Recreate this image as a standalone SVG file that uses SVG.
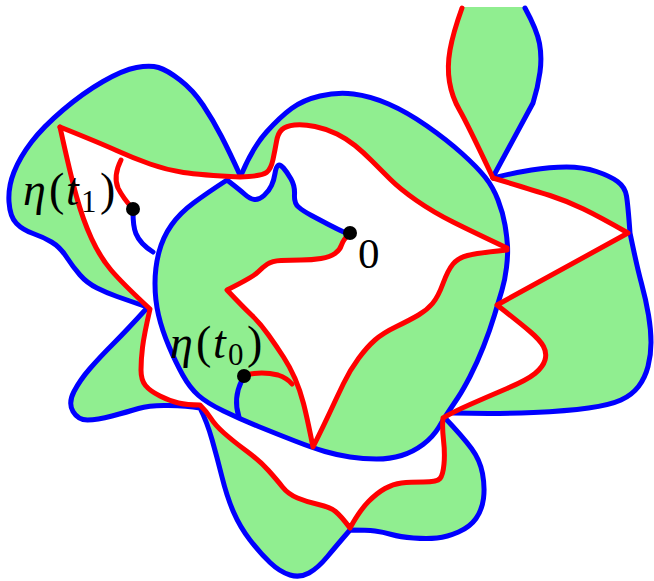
<svg xmlns="http://www.w3.org/2000/svg" width="654" height="581" viewBox="0 0 654 581">
<style>
.g{fill:#90EE90;stroke:none}
.w{fill:#ffffff;stroke:none}
.b{fill:none;stroke:#0000FF;stroke-width:5;stroke-linecap:round;stroke-linejoin:round}
.r{fill:none;stroke:#FF0000;stroke-width:5;stroke-linecap:round;stroke-linejoin:round}
.lbl{font-family:"Liberation Serif","DejaVu Serif",serif;fill:#000}
</style>
<rect width="654" height="581" fill="#ffffff"/>
<g id="fills">
<path id="fill-left" class="g" d="M240,175 Q230,153 221.5,136.5 Q213,120 203,105 Q193,90 180,80 Q167,70 158.5,67.5 Q150,65 136.5,67.5 Q123,70 103,81.5 Q83,93 63,110 Q43,127 31.5,142 Q20,157 14,172 Q8,187 9,202 Q10,217 16.5,223.5 Q23,230 33,233.5 Q43,237 51.5,242 Q60,247 66.5,257 Q73,267 80,275 Q87,283 97,288 Q107,293 117,296.5 Q127,300 147,307 L150,309 Q122,283 111,270 Q100,257 91.5,238.5 Q83,220 76.5,196.5 Q70,173 60,127 Q100,143 116.5,150.5 Q133,158 150,164 Q167,170 183.5,172.5 Q200,175 240,177 Z"/>
<path id="fill-center" class="g" d="M242,173 Q253,147 266.5,132 Q280,117 291.5,108.5 Q303,100 320,96 Q337,92 353.5,94 Q370,96 388.5,104 Q407,112 427,126 Q447,140 462,153.5 Q477,167 485,177 Q493,187 498,200 Q503,213 505,225 Q507,237 507.5,246 Q508,255 506.5,267.5 Q505,280 502,290 Q499,300 494.5,315 Q490,330 483.5,346.5 Q477,363 470,376.5 Q463,390 458,397.5 Q453,405 449,411 Q445,417 439,427 Q433,437 423,444.5 Q413,452 401.5,455.5 Q390,459 376.5,459 Q363,459 350,457 Q337,455 325,451.5 Q313,448 295,441 Q277,434 258.5,426.5 Q240,419 223.5,411 Q207,403 198.5,395.5 Q190,388 183,375.5 Q176,363 169,346.5 Q162,330 158.5,315 Q155,300 155,283.5 Q155,267 159,252 Q163,237 171.5,225 Q180,213 193.5,203 Q207,193 227,180 Z"/>
<path id="hole-center" class="w" d="M227,180 L240,177 Q262,176 266.5,172.5 Q271,169 273,159.5 Q275,150 276.5,141.5 Q278,133 282,129.5 Q286,126 294.5,125 Q303,124 315,126.5 Q327,129 337,134 Q347,139 355,145.5 Q363,152 371.5,160.5 Q380,169 390,179 Q400,189 416.5,200.5 Q433,212 453,222 Q473,232 507,248 L507,250 Q477,253 467.5,255.5 Q458,258 453,264 Q448,270 443,283.5 Q438,297 432.5,303.5 Q427,310 418.5,315 Q410,320 396.5,326.5 Q383,333 375,340 Q367,347 358.5,358.5 Q350,370 343.5,383.5 Q337,397 330,412 Q323,427 313,447 Q307,417 303.5,403.5 Q300,390 295,378.5 Q290,367 283.5,357 Q277,347 268.5,335 Q260,323 251.5,315 Q243,307 227,290 Q253,277 258,272 Q263,267 267.5,264 Q272,261 281,260.5 Q290,260 301,260 Q312,260 321,258.5 Q330,257 335,253.5 Q340,250 341.5,245 Q343,240 350,233 L348,234 Q337,229 328.5,224.5 Q320,220 311.5,215.5 Q303,211 298.5,207 Q294,203 294.5,194.5 Q295,186 291,179 Q287,172 283.5,168 Q280,164 278,165.5 Q276,167 275,173.5 Q274,180 271.5,185.5 Q269,191 264,195.5 Q259,200 254.5,199.5 Q250,199 245,194.5 Q240,190 227,180 Z"/>
<path id="fill-petal" class="g" d="M462,7 Q453,33 450,50 Q447,67 449.5,82 Q452,97 459.5,110 Q467,123 493,178 L533,103 Q538,87 540,72 Q542,57 539.5,43.5 Q537,30 525,7 Z"/>
<path id="fill-right-upper" class="g" d="M493,178 Q513,173 531.5,170 Q550,167 566.5,167 Q583,167 596.5,171.5 Q610,176 617.5,181.5 Q625,187 626.5,196 Q628,205 630,233 Q600,217 583.5,209 Q567,201 550,195.5 Q533,190 493,178 Z"/>
<path id="fill-right-lower" class="g" d="M630,233 Q637,267 641.5,283.5 Q646,300 648.5,315 Q651,330 651,342.5 Q651,355 648,366.5 Q645,378 638.5,386.5 Q632,395 621,400 Q610,405 588.5,408 Q567,411 533.5,412.5 Q500,414 453,413 L443,418 Q453,412 470,404.5 Q487,397 507,388.5 Q527,380 535,373.5 Q543,367 545,360 Q547,353 543.5,346.5 Q540,340 530,331.5 Q520,323 497,305 L628,233 Z"/>
<path id="fill-lower-left" class="g" d="M147,308 Q127,330 113.5,343.5 Q100,357 90,368.5 Q80,380 74,391.5 Q68,403 73,411.5 Q78,420 87.5,420 Q97,420 112,416 Q127,412 138.5,408.5 Q150,405 168.5,405.5 Q187,406 200,408 L200,405 Q187,405 178.5,403 Q170,401 160,396 Q150,391 145.5,385.5 Q141,380 141,370 Q141,360 142.5,347.5 Q144,335 150,309 Z"/>
<path id="fill-bottom-left" class="g" d="M200,408 Q207,422 212,439.5 Q217,457 222,477 Q227,497 233.5,512 Q240,527 250,540 Q260,553 270,562.5 Q280,572 290,575 Q300,578 309,573 Q318,568 327.5,556.5 Q337,545 350,530 L350,528 Q341,516 335.5,511.5 Q330,507 318.5,504.5 Q307,502 297.5,498 Q288,494 282.5,487 Q277,480 268.5,470.5 Q260,461 246.5,451 Q233,441 224,433 Q215,425 211,418.5 Q207,412 200,405 Z"/>
<path id="fill-bottom-right" class="g" d="M350,530 Q367,530 375,531 Q383,532 391.5,534.5 Q400,537 413.5,538 Q427,539 437,538 Q447,537 458.5,532 Q470,527 476,518.5 Q482,510 483.5,498.5 Q485,487 482.5,473.5 Q480,460 471.5,448.5 Q463,437 445,418 L443,418 Q442,427 443.5,440 Q445,453 444,464 Q443,475 440,478.5 Q437,482 423.5,482 Q410,482 401.5,483 Q393,484 385,488.5 Q377,493 368.5,501.5 Q360,510 350,528 Z"/>
</g>
<g id="blue-curves">
<path class="b" d="M240,175 Q230,153 221.5,136.5 Q213,120 203,105 Q193,90 180,80 Q167,70 158.5,67.5 Q150,65 136.5,67.5 Q123,70 103,81.5 Q83,93 63,110 Q43,127 31.5,142 Q20,157 14,172 Q8,187 9,202 Q10,217 16.5,223.5 Q23,230 33,233.5 Q43,237 51.5,242 Q60,247 66.5,257 Q73,267 80,275 Q87,283 97,288 Q107,293 117,296.5 Q127,300 147,307"/>
<path class="b" d="M147,308 Q127,330 113.5,343.5 Q100,357 90,368.5 Q80,380 74,391.5 Q68,403 73,411.5 Q78,420 87.5,420 Q97,420 112,416 Q127,412 138.5,408.5 Q150,405 168.5,405.5 Q187,406 200,408 Q207,422 212,439.5 Q217,457 222,477 Q227,497 233.5,512 Q240,527 250,540 Q260,553 270,562.5 Q280,572 290,575 Q300,578 309,573 Q318,568 327.5,556.5 Q337,545 350,530 Q367,530 375,531 Q383,532 391.5,534.5 Q400,537 413.5,538 Q427,539 437,538 Q447,537 458.5,532 Q470,527 476,518.5 Q482,510 483.5,498.5 Q485,487 482.5,473.5 Q480,460 471.5,448.5 Q463,437 445,418"/>
<path class="b" d="M242,173 Q253,147 266.5,132 Q280,117 291.5,108.5 Q303,100 320,96 Q337,92 353.5,94 Q370,96 388.5,104 Q407,112 427,126 Q447,140 462,153.5 Q477,167 485,177 Q493,187 498,200 Q503,213 505,225 Q507,237 507.5,246 Q508,255 506.5,267.5 Q505,280 502,290 Q499,300 494.5,315 Q490,330 483.5,346.5 Q477,363 470,376.5 Q463,390 458,397.5 Q453,405 449,411 Q445,417 439,427 Q433,437 423,444.5 Q413,452 401.5,455.5 Q390,459 376.5,459 Q363,459 350,457 Q337,455 325,451.5 Q313,448 295,441 Q277,434 258.5,426.5 Q240,419 223.5,411 Q207,403 198.5,395.5 Q190,388 183,375.5 Q176,363 169,346.5 Q162,330 158.5,315 Q155,300 155,283.5 Q155,267 159,252 Q163,237 171.5,225 Q180,213 193.5,203 Q207,193 227,180 Q240,190 245,194.5 Q250,199 254.5,199.5 Q259,200 264,195.5 Q269,191 271.5,185.5 Q274,180 275,173.5 Q276,167 278,165.5 Q280,164 283.5,168 Q287,172 291,179 Q295,186 294.5,194.5 Q294,203 298.5,207 Q303,211 311.5,215.5 Q320,220 328.5,224.5 Q337,229 348,234"/>
<path class="b" d="M493,178 Q513,173 531.5,170 Q550,167 566.5,167 Q583,167 596.5,171.5 Q610,176 617.5,181.5 Q625,187 626.5,196 Q628,205 630,233 Q637,267 641.5,283.5 Q646,300 648.5,315 Q651,330 651,342.5 Q651,355 648,366.5 Q645,378 638.5,386.5 Q632,395 621,400 Q610,405 588.5,408 Q567,411 533.5,412.5 Q500,414 453,413"/>
<path class="b" d="M525,8 Q537,30 539.5,43.5 Q542,57 540,72 Q538,87 533,103 L493,177"/>
<path class="b" d="M133,212 C133,228 134,240 153,252"/>
<path class="b" d="M242,380 C236,392 235,405 239,417"/>
</g>
<g id="red-curves">
<path class="r" d="M60,127 Q100,143 116.5,150.5 Q133,158 150,164 Q167,170 183.5,172.5 Q200,175 240,177 Q262,176 266.5,172.5 Q271,169 273,159.5 Q275,150 276.5,141.5 Q278,133 282,129.5 Q286,126 294.5,125 Q303,124 315,126.5 Q327,129 337,134 Q347,139 355,145.5 Q363,152 371.5,160.5 Q380,169 390,179 Q400,189 416.5,200.5 Q433,212 453,222 Q473,232 507,248"/>
<path class="r" d="M60,127 Q70,173 76.5,196.5 Q83,220 91.5,238.5 Q100,257 111,270 Q122,283 150,309 Q144,335 142.5,347.5 Q141,360 141,370 Q141,380 145.5,385.5 Q150,391 160,396 Q170,401 178.5,403 Q187,405 200,405 Q207,412 211,418.5 Q215,425 224,433 Q233,441 246.5,451 Q260,461 268.5,470.5 Q277,480 282.5,487 Q288,494 297.5,498 Q307,502 318.5,504.5 Q330,507 335.5,511.5 Q341,516 350,528 Q360,510 368.5,501.5 Q377,493 385,488.5 Q393,484 401.5,483 Q410,482 423.5,482 Q437,482 440,478.5 Q443,475 444,464 Q445,453 443.5,440 Q442,427 443,418 Q453,412 470,404.5 Q487,397 507,388.5 Q527,380 535,373.5 Q543,367 545,360 Q547,353 543.5,346.5 Q540,340 530,331.5 Q520,323 497,305 L628,233 Q600,217 583.5,209 Q567,201 550,195.5 Q533,190 493,178"/>
<path class="r" d="M507,250 Q477,253 467.5,255.5 Q458,258 453,264 Q448,270 443,283.5 Q438,297 432.5,303.5 Q427,310 418.5,315 Q410,320 396.5,326.5 Q383,333 375,340 Q367,347 358.5,358.5 Q350,370 343.5,383.5 Q337,397 330,412 Q323,427 313,447 Q307,417 303.5,403.5 Q300,390 295,378.5 Q290,367 283.5,357 Q277,347 268.5,335 Q260,323 251.5,315 Q243,307 227,290 Q253,277 258,272 Q263,267 267.5,264 Q272,261 281,260.5 Q290,260 301,260 Q312,260 321,258.5 Q330,257 335,253.5 Q340,250 341.5,245 Q343,240 350,233"/>
<path class="r" d="M462,8 Q453,33 450,50 Q447,67 449.5,82 Q452,97 459.5,110 Q467,123 493,178"/>
<path class="r" d="M121,160 Q113,176 118,188 Q123,198 133,209"/>
<path class="r" d="M245,375 Q262,371 278,375 Q287,378 292,384"/>
</g>
<g id="points">
<circle cx="133" cy="209" r="7"/>
<circle cx="350" cy="233" r="7"/>
<circle cx="244" cy="376" r="7"/>
</g>
<g id="labels" class="lbl">
<text y="205" font-size="46"><tspan x="23" font-style="italic">η</tspan><tspan x="49">(</tspan><tspan x="66" font-style="italic">t</tspan><tspan x="81" y="212" font-size="31">1</tspan><tspan x="100" y="205">)</tspan></text>
<text y="358" font-size="46"><tspan x="170" font-style="italic">η</tspan><tspan x="196">(</tspan><tspan x="213" font-style="italic">t</tspan><tspan x="228" y="365" font-size="31">0</tspan><tspan x="247" y="358">)</tspan></text>
<text x="358" y="268" font-size="43">0</text>
</g>
</svg>
